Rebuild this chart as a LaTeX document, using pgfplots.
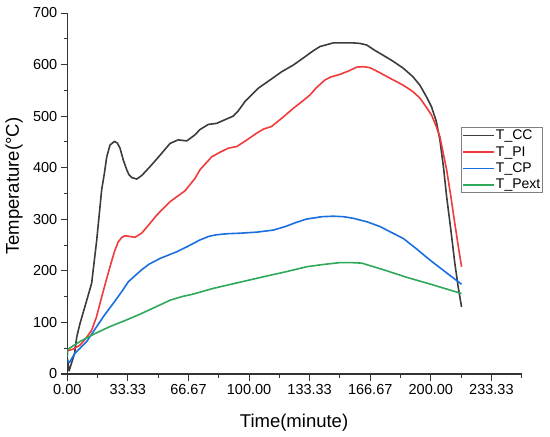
\documentclass[border=0pt]{standalone}
\usepackage{fontspec}
\setmainfont{Liberation Sans}
\usepackage{pgfplots}
\pgfplotsset{compat=1.18}
\definecolor{cBlack}{HTML}{3C3C3C}
\definecolor{cRed}{HTML}{F03A3C}
\definecolor{cBlue}{HTML}{1A6FDF}
\definecolor{cGreen}{HTML}{2EA859}
\definecolor{cAxis}{HTML}{333333}
\begin{document}
\begin{tikzpicture}
\begin{axis}[
  name=ax, at={(0,0)}, anchor=south west,
  scale only axis, width=454.4pt, height=361pt,
  xmin=0, xmax=250, ymin=0, ymax=700,
  axis x line*=bottom, axis y line*=left,
  axis line style={-, cAxis, line width=1.1pt},
  every tick/.style={cAxis, line width=1pt},
  tick align=outside,
  major tick length=6.5pt, minor tick length=3.5pt,
  xtick={0,33.333,66.667,100,133.333,166.667,200,233.333},
  xticklabels={0.00,33.33,66.67,100.00,133.33,166.67,200.00,233.33},
  minor xtick={16.667,50,83.333,116.667,150,183.333,216.667,250},
  ytick={0,100,200,300,400,500,600,700},
  yticklabels={0,100,200,300,400,500,600,700},
  minor ytick={50,150,250,350,450,550,650},
  /pgf/number format/assume math mode=true,
  ticklabel style={font=\fontsize{14.5}{16}\selectfont, text=black},
  xlabel={Time(minute)}, ylabel={Temperature(°C)},
  label style={font=\fontsize{18.5}{20}\selectfont},
  xlabel style={at={(axis description cs:0.499,-0.135)}, anchor=center},
  ylabel style={at={(axis description cs:-0.1173,0.52)}, anchor=center},
  legend style={at={(rel axis cs:0.8664,0.684)}, anchor=north west,
    draw=gray, line width=0.8pt, font=\fontsize{14}{16}\selectfont,
    inner xsep=1pt, inner ysep=1.5pt, row sep=3.2pt,
    nodes={inner sep=1pt}},
  legend cell align=left,
  legend image code/.code={\draw[#1, line width=1.6pt] (0pt,0pt) -- (31pt,0pt);},
]
\addplot[cBlack, line width=1.6pt, line join=round] coordinates {
(0,30) (1,6) (4,40) (5.2,72) (7,98) (10.7,143) (13.4,176) (16.2,260) (18.9,357) (20.4,389) (21.7,421) (23.5,444) (25.9,451) (27.5,448) (29,438) (30.8,415) (32.7,396) (34,386) (35.4,381) (38.2,378) (41,385) (45.5,402) (50,420) (56.5,447) (61,454) (65.7,452) (70,463) (73,474) (77.6,484) (82.2,486) (86,492) (91.3,500) (94,510) (97.7,528) (105,554) (111.5,570) (117.9,586) (124.3,599) (130.7,615) (135,626) (139,635) (146.3,642) (152,642) (157.3,642) (161,641) (164.7,638) (169,628) (173.8,618) (179,607) (184.8,593) (190,577) (194,560) (198,535) (200.4,518) (203,490) (205,454) (207,400) (208.7,344) (211,280) (213.2,215) (215,170) (216.9,130)
};
\addlegendentry{T\_CC}
\addplot[cRed, line width=1.6pt, line join=round] coordinates {
(0,45) (3,48) (7,56) (10,68) (13.4,85) (16,110) (18,137) (20.5,170) (23.5,208) (26,238) (28,256) (30,265) (31.7,268) (34,267) (37.2,265) (40.9,273) (45,290) (49.2,308) (56.5,334) (60,343) (64.7,355) (70.2,379) (73,396) (79.4,421) (84,430) (88.6,438) (93.2,441) (98,452) (104.2,467) (108,475) (112.4,480) (118,496) (124.3,515) (129,528) (133.5,541) (137,555) (141.7,570) (145,576) (150,581) (155,588) (159.2,595) (163,596) (166.5,594) (171,586) (175.7,577) (184.8,560) (190,548) (194,535) (198,515) (200.4,502) (203,480) (205,460) (208.7,396) (211,345) (213.2,292) (215,250) (216.9,208)
};
\addlegendentry{T\_PI}
\addplot[cBlue, line width=1.6pt, line join=round] coordinates {
(0,27) (1.1,22) (4.2,40) (7,50) (10.7,63) (16.2,92) (20,112) (25.3,137) (30,160) (33.6,179) (40.9,202) (45,213) (51,224) (60.2,237) (66,247) (73,260) (78,267) (82.2,270) (88,272) (95,273) (104,275) (113.3,279) (120,286) (126,294) (131.7,300.5) (140,305) (146.3,306) (152,305) (157.3,302) (165,295) (172,286) (178,275) (184.8,263) (192,243) (199.5,221) (208,198) (216.9,174)
};
\addlegendentry{T\_CP}
\addplot[cGreen, line width=1.6pt, line join=round] coordinates {
(0,33) (0.3,48) (7,63) (15,78) (23.5,92) (32,104) (40,116) (48,129) (56.5,143) (63,150) (69.3,155) (80.3,166) (95,178) (109.7,190) (120,198) (131.7,208) (140,212) (150,216) (156,216) (162,215) (175,201) (186.7,187.5) (200,174) (216.9,156)
};
\addlegendentry{T\_Pext}
\end{axis}
\pgfresetboundingbox
\path (-67.3pt,-63pt) rectangle (482.7pt,374pt);
\end{tikzpicture}
\end{document}
